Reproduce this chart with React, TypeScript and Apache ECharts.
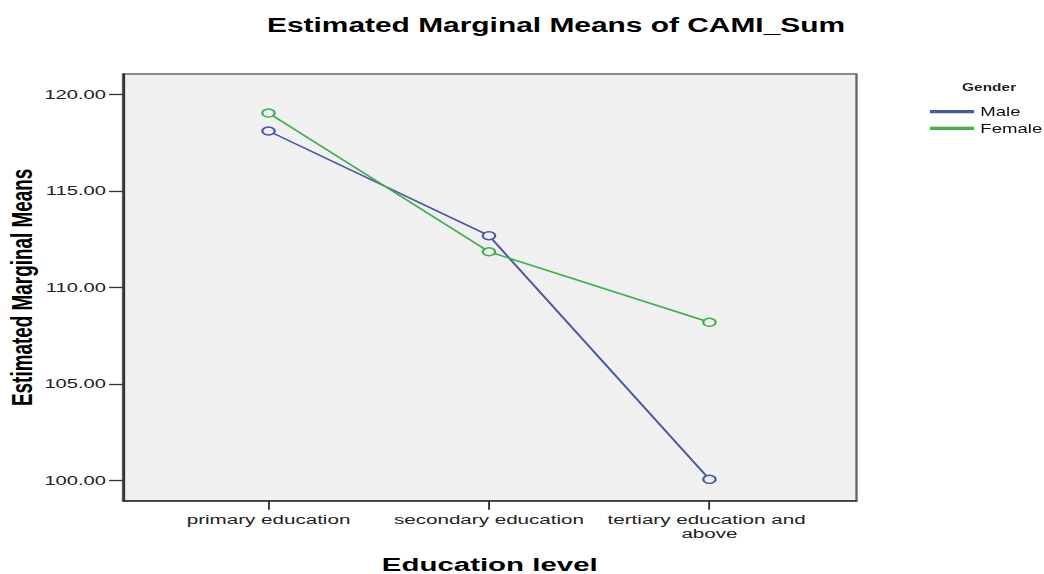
import React, { useEffect, useRef } from "react";
import * as echarts from "echarts";

const educationLevels = ["primary education", "secondary education", "tertiary education and above"];
const maleMeans = [118.1, 112.68, 100.07];
const femaleMeans = [119.03, 111.85, 108.2];
const yTicks = [100, 105, 110, 115, 120];
const xTicks = [0, 1, 2];
const seriesNames = ["Male", "Female"];
const chartTitle = "Estimated Marginal Means of CAMI_Sum";

const S = 1.55; // horizontal stretch of the original picture
const W = 1044 / S;
const H = 574;
const FONT = "'Liberation Sans', Arial, sans-serif";
const MALE = "#4b58a6";
const FEMALE = "#41b04b";

export default function App() {
  const ref = useRef<HTMLDivElement>(null);
  useEffect(() => {
    const chart = echarts.init(ref.current!, null, { renderer: "svg", width: W, height: H });
    const px = (v: number) => v / S;
    chart.setOption({
      animation: false,
      backgroundColor: "#ffffff",
      title: [
        {
          text: "Gender",
          left: px(962),
          top: 83,
          padding: 0,
          textStyle: { fontFamily: FONT, fontSize: 10, fontWeight: "bold", color: "#222" },
        },
      ],
      graphic: [
        {
          type: "text",
          x: px(267),
          y: 14,
          scaleX: 0.919,
          style: {
            text: chartTitle,
            fontFamily: FONT,
            fontSize: 21,
            fontWeight: "bold",
            fill: "#000",
            align: "left",
            verticalAlign: "top",
          },
        },
      ],
      legend: {
        orient: "vertical",
        left: px(930),
        top: 105.7,
        padding: 0,
        itemGap: 4.6,
        itemWidth: px(41),
        itemHeight: 1.2,
        icon: "rect",
        textStyle: { fontFamily: FONT, fontSize: 12, color: "#111" },
        data: [
          { name: seriesNames[0], itemStyle: { color: MALE } },
          { name: seriesNames[1], itemStyle: { color: FEMALE } },
        ],
      },
      grid: {
        left: px(123),
        right: W - px(856.5),
        top: 74,
        bottom: H - 500.7,
        show: true,
        backgroundColor: "#f0f0f0",
        borderColor: "#666",
        borderWidth: 1.5,
        outerBoundsMode: "none",
        containLabel: false,
      },
      xAxis: {
        type: "value",
        min: -0.66,
        max: 2.667,
        name: "Education level",
        nameLocation: "middle",
        nameGap: 54,
        nameMoveOverlap: false,
        nameTextStyle: { fontFamily: FONT, fontSize: 19, fontWeight: "bold", color: "#000" },
        axisLine: { show: true, onZero: false, lineStyle: { color: "#333", width: 1.5 } },
        axisTick: { show: true, customValues: xTicks, length: 9, lineStyle: { color: "#333", width: 1.2 } },
        axisLabel: {
          customValues: xTicks,
          formatter: (v: number) => educationLevels[Math.round(v)],
          fontFamily: FONT,
          fontSize: 13.3,
          lineHeight: 14,
          color: "#222",
          margin: 12,
          width: 135,
          overflow: "break",
        },
        splitLine: { show: false },
      },
      yAxis: {
        type: "value",
        min: 98.965,
        max: 121.05,
        name: "Estimated Marginal Means",
        nameLocation: "middle",
        nameRotate: 90,
        nameGap: 56,
        nameMoveOverlap: false,
        nameTextStyle: { fontFamily: FONT, fontSize: 18.9, fontWeight: "bold", color: "#000" },
        axisLine: { show: true, onZero: false, lineStyle: { color: "#333", width: 1.5 } },
        axisTick: { show: true, customValues: yTicks, length: 9, lineStyle: { color: "#333", width: 1.3 } },
        axisLabel: {
          customValues: yTicks,
          formatter: (v: number) => v.toFixed(2),
          fontFamily: FONT,
          fontSize: 13,
          color: "#222",
          margin: 11,
        },
        splitLine: { show: false },
      },
      series: [
        {
          name: seriesNames[0],
          type: "line",
          data: maleMeans.map((v, i) => [i, v]),
          symbol: "circle",
          symbolSize: 8,
          lineStyle: { color: MALE, width: 1.5 },
          itemStyle: { color: "#f0f0f0", borderColor: MALE, borderWidth: 1.4 },
        },
        {
          name: seriesNames[1],
          type: "line",
          data: femaleMeans.map((v, i) => [i, v]),
          symbol: "circle",
          symbolSize: 8,
          lineStyle: { color: FEMALE, width: 1.5 },
          itemStyle: { color: "#f0f0f0", borderColor: FEMALE, borderWidth: 1.4 },
        },
      ],
    });
    return () => chart.dispose();
  }, []);
  return (
    <div
      ref={ref}
      style={{
        position: "absolute",
        left: 0,
        top: 0,
        width: W,
        height: H,
        transform: `scaleX(${S})`,
        transformOrigin: "0 0",
      }}
    />
  );
}
